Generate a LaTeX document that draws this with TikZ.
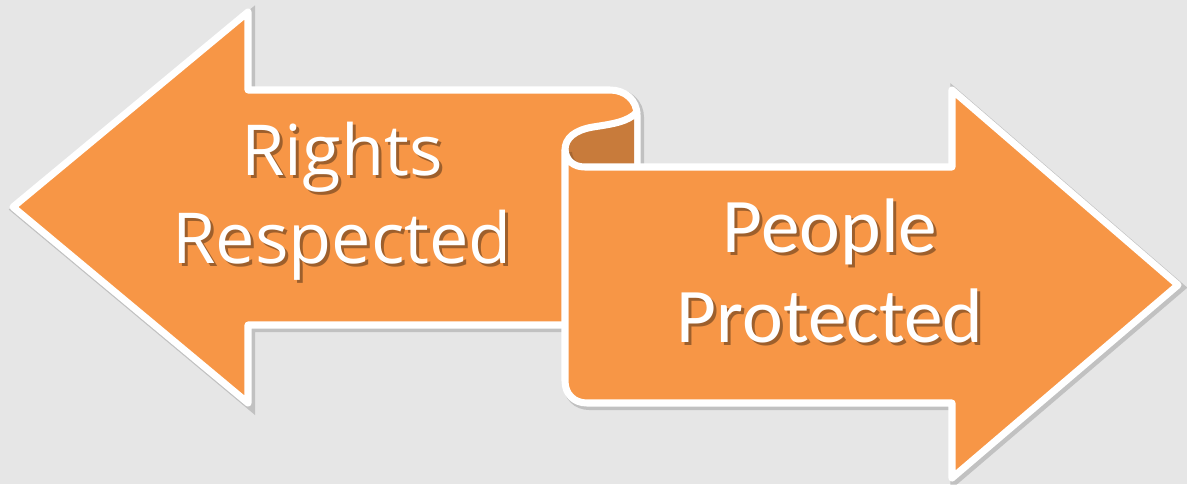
\documentclass[tikz,border=0pt]{standalone}
\usepackage{fontspec}
\newfontfamily\rightsfont{Open Sans}
\newfontfamily\peoplefont{Carlito}
\definecolor{bggray}{HTML}{E6E6E6}
\definecolor{arroworange}{HTML}{F79646}
\definecolor{curlback}{HTML}{C87B3B}

\begin{document}
\begin{tikzpicture}[
  x=0.02cm, y=-0.02cm,
  rim/.style={draw=white, line width=4pt, line join=round, line cap=round},
  arrowshape/.style={rim, fill=arroworange,
    preaction={draw=black, opacity=.16, line width=5pt,
      transform canvas={shift={(1.5pt,-1.5pt)}}}},
  arrowtext/.style={text=white, align=center, anchor=base},
  textshadow/.style={arrowtext, text=black!80!arroworange, opacity=.45},
  rightstext/.style={font=\rightsfont\fontsize{40}{50}\selectfont},
  peopletext/.style={font=\peoplefont\fontsize{44}{51}\selectfont}
]
\fill[bggray] (0,0) rectangle (1187,484);
\useasboundingbox (0,0) rectangle (1187,484);

% left arrow, pointing left
\draw[arrowshape] (13,207) -- (248,12) -- (248,90) -- (610,90)
  .. controls (625,90) and (637,100) .. (637,115)
  -- (637,325) -- (248,325) -- (248,403) -- cycle;

% back side of the curl
\fill[curlback] (634,114) .. controls (626,122) and (612,124) .. (593,127)
  .. controls (575,130) and (565,138) .. (565,150)
  .. controls (566,160) and (573,167) .. (585,167) -- (634,167) -- cycle;

% right arrow, pointing right
\draw[arrowshape] (565,150) .. controls (566,160) and (573,167) .. (585,167)
  -- (952,167) -- (952,90) -- (1178,285) -- (952,478) -- (952,403)
  -- (587,403) .. controls (574,403) and (565,394) .. (565,381) -- cycle;
\draw[rim] (637,112) .. controls (628,122) and (612,124) .. (593,127)
  .. controls (575,130) and (565,138) .. (565,150);

% labels (anchor = baseline of the last line)
\node[textshadow, rightstext] (rightsshadow) at (345,266) {Rights\\Respected};
\node[arrowtext, rightstext] (rights) at (342,263) {Rights\\Respected};
\node[textshadow, peopletext] (peopleshadow) at (833,345) {People\\Protected};
\node[arrowtext, peopletext] (people) at (830,342) {People\\Protected};
\end{tikzpicture}
\end{document}
